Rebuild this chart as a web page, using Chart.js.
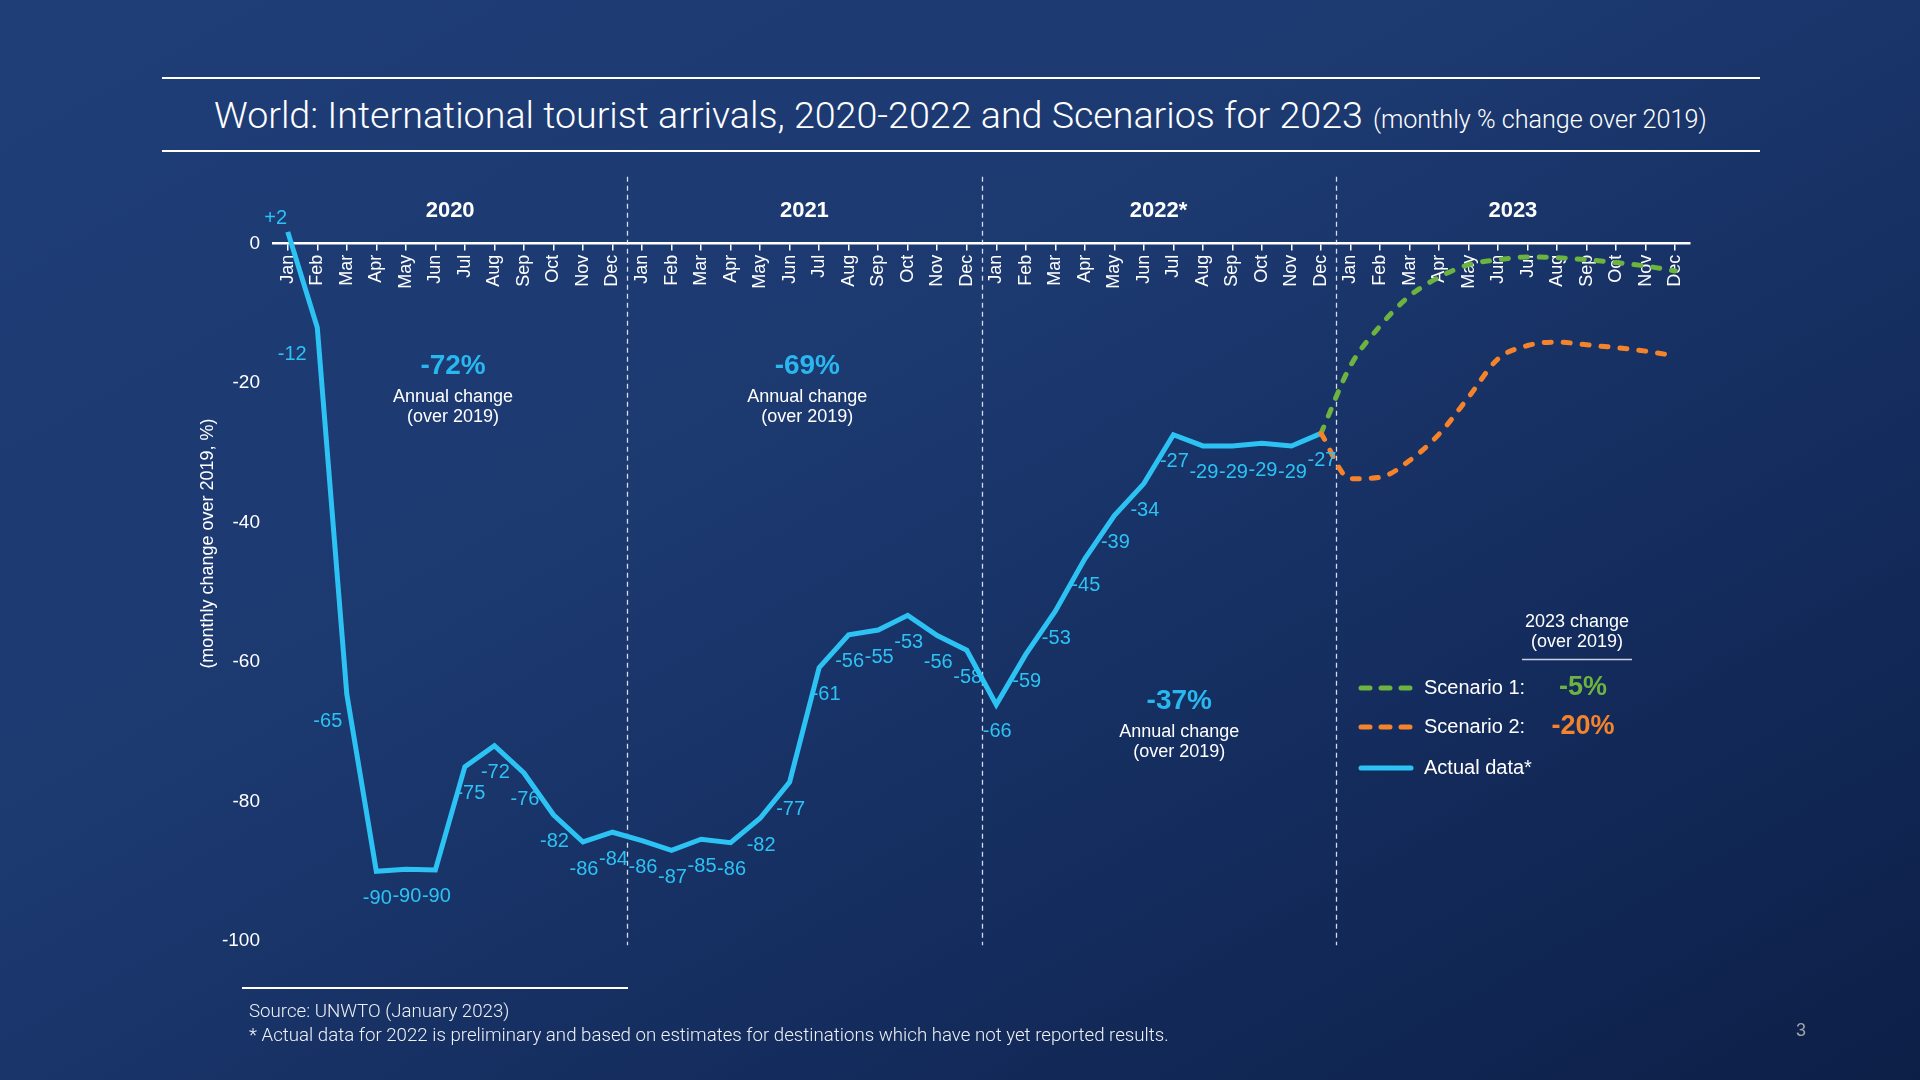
<!DOCTYPE html>
<html>
<head>
<meta charset="utf-8">
<script src="https://cdn.jsdelivr.net/npm/chart.js@4.4.1/dist/chart.umd.min.js"></script>
<style>
html,body{margin:0;padding:0;width:1920px;height:1080px;overflow:hidden;}
body{position:relative;background:linear-gradient(to bottom right,#1f3d77 0%,#1c3970 40%,#142c5d 70%,#0c1f47 100%);font-family:Roboto,'Liberation Sans',sans-serif;}
#c{position:absolute;left:0;top:0;}
.rule{position:absolute;background:#ffffff;height:2px;}
.txt{position:absolute;white-space:nowrap;color:#ffffff;}
#title{left:214px;top:93px;line-height:44px;height:44px;font-weight:300;}
#t1{font-size:35px;}
#t2{font-size:23px;margin-left:10px;}
#f1,#f2{left:249px;font-size:17px;line-height:22px;color:#eef1f6;font-weight:300;}
#f1{top:1000px;}
#f2{top:1024px;}
#pg{left:1796px;top:1019px;font-family:'Liberation Sans',Arial,sans-serif;font-size:18px;line-height:22px;color:#9ea3ad;}
</style>
</head>
<body>
<div class="rule" style="left:162px;top:77px;width:1598px;"></div>
<div class="rule" style="left:162px;top:150px;width:1598px;"></div>
<div class="txt" id="title"><span id="t1" data-w="1149">World: International tourist arrivals, 2020-2022 and Scenarios for 2023</span><span id="t2" data-w="334">(monthly % change over 2019)</span></div>
<canvas id="c" width="1920" height="1080"></canvas>
<div class="rule" style="left:242px;top:987px;width:386px;"></div>
<div class="txt" id="f1">Source: UNWTO (January 2023)</div>
<div class="txt" id="f2" data-w="920">* Actual data for 2022 is preliminary and based on estimates for destinations which have not yet reported results.</div>
<div class="txt" id="pg">3</div>
<script>
// ---------------- DATA ----------------
const months = ['Jan','Feb','Mar','Apr','May','Jun','Jul','Aug','Sep','Oct','Nov','Dec'];
const years = ['2020','2021','2022*','2023'];
const actual2020 = [1.7,-12,-64.6,-90,-89.7,-89.8,-75,-72,-75.9,-81.9,-85.8,-84.4];
const actual2021 = [-85.6,-87,-85.4,-85.9,-82.4,-77.2,-60.8,-56.1,-55.4,-53.3,-56.2,-58.3];
const actual2022 = [-66.1,-58.9,-52.7,-45.2,-39,-34.4,-27.4,-29,-29,-28.6,-29,-27.2];
const scenario1_2023 = [-17.5,-11.8,-7.5,-4.8,-3.0,-2.3,-1.9,-2.0,-2.3,-2.7,-3.2,-3.9];
const scenario2_2023 = [-33.7,-33.5,-31.1,-27.3,-22.0,-16.5,-14.6,-14.1,-14.5,-14.9,-15.4,-16.1];
const annualChange = ['-72%','-69%','-37%'];
const scenarioChange2023 = ['-5%','-20%'];
const yTicks = [0,-20,-40,-60,-80,-100];

// ---------------- BUILD ----------------
const labels = [];
years.forEach(() => months.forEach(m => labels.push(m)));
const actualData = actual2020.concat(actual2021, actual2022, new Array(12).fill(null));
const lastActual = actual2022[actual2022.length - 1];
const pad35 = new Array(35).fill(null);
const s1Data = pad35.concat([lastActual], scenario1_2023);
const s2Data = pad35.concat([lastActual], scenario2_2023);

const CYAN = '#2cc3f4', GREEN = '#6cb33f', ORANGE = '#f5832b', LBLUE = '#29b7ef';
const AX = "'Liberation Sans', Arial, sans-serif";
// horizontal nudges (px) for a few data labels that sit beside steep segments
const labelNudge = {1: -26, 2: -20, 6: 5, 18: 6};

const decoPlugin = {
  id: 'deco',
  beforeDatasetsDraw(chart) {
    const {ctx} = chart;
    const xs = chart.scales.x, ys = chart.scales.y;
    ctx.save();
    // y-axis title
    ctx.save();
    ctx.translate(208, ys.getPixelForValue(-43));
    ctx.rotate(-Math.PI / 2);
    ctx.fillStyle = '#ffffff';
    ctx.font = '18px ' + AX;
    ctx.textAlign = 'center';
    ctx.textBaseline = 'middle';
    ctx.fillText('(monthly change over 2019, %)', 0, 0);
    ctx.restore();
    // year separators
    ctx.strokeStyle = 'rgba(235,240,250,0.9)';
    ctx.lineWidth = 1.3;
    ctx.setLineDash([5, 4]);
    [11.5, 23.5, 35.5].forEach(v => {
      const x = Math.round(xs.getPixelForValue(v)) + 0.5;
      ctx.beginPath();
      ctx.moveTo(x, ys.getPixelForValue(9.6));
      ctx.lineTo(x, ys.getPixelForValue(-100.6));
      ctx.stroke();
    });
    ctx.setLineDash([]);
    // year labels
    ctx.fillStyle = '#ffffff';
    ctx.font = 'bold 22px ' + AX;
    ctx.textAlign = 'center';
    ctx.textBaseline = 'middle';
    years.forEach((y, i) => {
      ctx.fillText(y, xs.getPixelForValue(i * 12 + 5.5), ys.getPixelForValue(0) - 33);
    });
    // annual change annotations
    const ann = [[5.6, -17.6], [17.6, -17.6], [30.2, -65.6]];
    annualChange.forEach((t, i) => {
      const x = xs.getPixelForValue(ann[i][0]);
      const y = ys.getPixelForValue(ann[i][1]);
      ctx.fillStyle = LBLUE;
      ctx.font = 'bold 28px ' + AX;
      ctx.fillText(t, x, y);
      ctx.fillStyle = '#ffffff';
      ctx.font = '18px ' + AX;
      ctx.fillText('Annual change', x, y + 31);
      ctx.fillText('(over 2019)', x, y + 51);
    });
    ctx.restore();
  },
  afterDatasetsDraw(chart) {
    const {ctx} = chart;
    ctx.save();
    // data labels for actual series
    const meta = chart.getDatasetMeta(2);
    ctx.font = '20px ' + AX;
    ctx.fillStyle = CYAN;
    ctx.textAlign = 'center';
    ctx.textBaseline = 'middle';
    meta.data.forEach((pt, i) => {
      const v = actualData[i];
      if (v === null || v === undefined) return;
      const r = Math.round(v);
      const dx = labelNudge[i] || 0;
      if (r > 0) ctx.fillText('+' + r, pt.x - 12, pt.y - 13);
      else ctx.fillText(String(r), pt.x + 1 + dx, pt.y + 27);
    });
    // legend
    ctx.fillStyle = '#ffffff';
    ctx.font = '18px ' + AX;
    ctx.fillText('2023 change', 1577, 622);
    ctx.fillText('(over 2019)', 1577, 642);
    ctx.strokeStyle = '#c9cfdf';
    ctx.lineWidth = 1.5;
    ctx.beginPath(); ctx.moveTo(1522, 659.5); ctx.lineTo(1632, 659.5); ctx.stroke();
    const rows = [
      {y: 688, color: GREEN, dash: true, text: 'Scenario 1:', val: scenarioChange2023[0]},
      {y: 727, color: ORANGE, dash: true, text: 'Scenario 2:', val: scenarioChange2023[1]},
      {y: 768, color: CYAN, dash: false, text: 'Actual data*', val: null}
    ];
    rows.forEach(r => {
      ctx.strokeStyle = r.color;
      ctx.lineWidth = 5;
      ctx.lineCap = 'round';
      ctx.setLineDash(r.dash ? [9, 11] : []);
      ctx.beginPath(); ctx.moveTo(1361, r.y); ctx.lineTo(1411, r.y); ctx.stroke();
      ctx.setLineDash([]);
      ctx.fillStyle = '#ffffff';
      ctx.font = '20px ' + AX;
      ctx.textAlign = 'left';
      ctx.fillText(r.text, 1424, r.y);
      if (r.val) {
        ctx.fillStyle = r.color;
        ctx.font = 'bold 27px ' + AX;
        ctx.textAlign = 'center';
        ctx.fillText(r.val, 1583, r.y);
      }
    });
    ctx.restore();
  }
};

function build() {
  new Chart(document.getElementById('c'), {
    type: 'line',
    data: {
      labels: labels,
      datasets: [
        {label: 'Scenario 2', data: s2Data, borderColor: ORANGE, borderWidth: 5, borderDash: [7, 12],
         borderCapStyle: 'round', pointRadius: 0, tension: 0.4, cubicInterpolationMode: 'monotone', fill: false},
        {label: 'Scenario 1', data: s1Data, borderColor: GREEN, borderWidth: 5, borderDash: [7, 12],
         borderCapStyle: 'round', pointRadius: 0, tension: 0.4, cubicInterpolationMode: 'monotone', fill: false},
        {label: 'Actual data*', data: actualData, borderColor: CYAN, borderWidth: 5, pointRadius: 0,
         tension: 0, fill: false, borderJoinStyle: 'miter'}
      ]
    },
    options: {
      responsive: false,
      animation: false,
      devicePixelRatio: 1,
      layout: {padding: {left: 198, right: 230, top: 174, bottom: 139}},
      plugins: {legend: {display: false}, tooltip: {enabled: false}},
      scales: {
        x: {
          type: 'category',
          position: {y: 0},
          offset: true,
          grid: {display: true, drawOnChartArea: false, drawTicks: true, tickLength: 6, color: '#ffffff', lineWidth: 1.5, offset: false},
          border: {display: true, color: '#ffffff', width: 2.5},
          ticks: {color: '#ffffff', font: {family: AX, size: 18}, maxRotation: 90, minRotation: 90, autoSkip: false, padding: 5}
        },
        y: {
          min: -100, max: 10,
          afterBuildTicks(scale) { scale.ticks = yTicks.map(v => ({value: v})); },
          afterFit(scale) { scale.width = 75; },
          grid: {display: false, drawTicks: false},
          border: {display: false},
          ticks: {color: '#ffffff', font: {family: AX, size: 19}, padding: 13},
          title: {display: false}
        }
      }
    },
    plugins: [decoPlugin]
  });
}

function fitText() {
  ['t1', 't2', 'f2'].forEach(id => {
    const el = document.getElementById(id);
    const target = parseFloat(el.dataset.w);
    const fs = parseFloat(getComputedStyle(el).fontSize);
    const w = el.getBoundingClientRect().width;
    if (w > 0) el.style.fontSize = (fs * target / w).toFixed(2) + 'px';
  });
  document.getElementById('f1').style.fontSize = document.getElementById('f2').style.fontSize;
}

(document.fonts && document.fonts.ready ? document.fonts.ready : Promise.resolve()).then(() => {
  fitText();
  build();
});
</script>
</body>
</html>
